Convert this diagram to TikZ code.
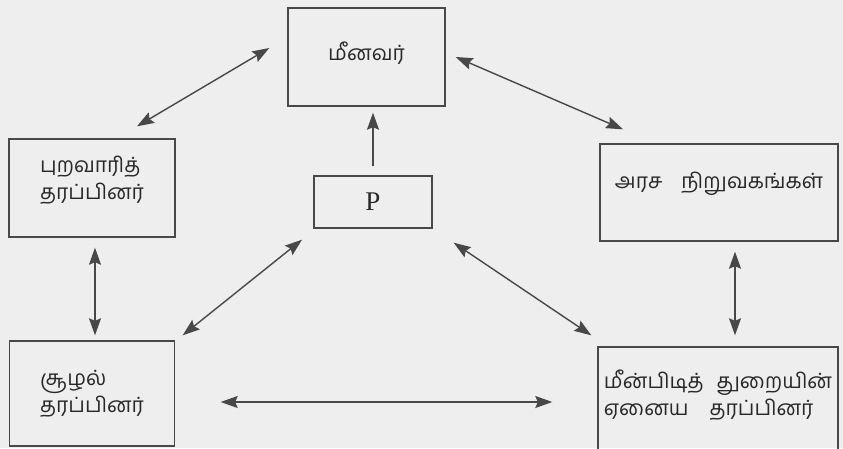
\documentclass[tikz,border=0pt]{standalone}
\usepackage{fontspec}
\setmainfont{Liberation Serif}
\newfontfamily\tamil[Script=Tamil]{Hind Madurai}
\usetikzlibrary{arrows.meta, positioning, calc}
\definecolor{paper}{RGB}{238, 238, 238}
\definecolor{ink}{RGB}{40, 40, 40}
\definecolor{wire}{RGB}{72, 72, 72}

\begin{document}
\begin{tikzpicture}[x=1pt, y=-1pt,
    box/.style={draw=wire, line width=1.4pt, text=ink, inner sep=2pt,
      font=\tamil\fontsize{21}{27}\selectfont},
    link/.style={draw=wire, line width=1.4pt,
      {Stealth[length=17pt, width=12pt, inset=2.5pt]}-{Stealth[length=17pt, width=12pt, inset=2.5pt]}},
    uplink/.style={draw=wire, line width=1.4pt, -{Stealth[length=17pt, width=12pt, inset=2.5pt]}}]
  \fill[paper] (0,0) rectangle (843,448);
  \useasboundingbox (0,0) rectangle (843,448);

  % Boxes
  \node[box, minimum width=157pt, minimum height=98pt, text depth=12pt] (fishers) at (366.5, 57) {மீனவர்};
  \node[box, minimum width=166pt, minimum height=98pt, align=left, text depth=20pt] (outsrc) at (92, 188) {புறவாரித்\\தரப்பினர்};
  \node[box, minimum width=118pt, minimum height=52pt, font=\fontsize{27}{30}\selectfont] (P) at (373, 202) {P};
  \node[box, minimum width=238pt, minimum height=97pt, text depth=24pt] (govt) at (719, 192.5) {அரச\hspace{0.9em}நிறுவகங்கள்};
  \node[box, minimum width=165pt, minimum height=105pt, align=left] (env) at (92, 393.5) {சூழல்\\தரப்பினர்};
  \node[box, minimum width=240pt, minimum height=106pt, align=left, text depth=14pt] (other) at (718, 400)
    {மீன்பிடித்\hspace{0.6em}துறையின்\\ஏனைய\hspace{1em}தரப்பினர்};

  % Links
  \draw[link] ([shift={(45,-12)}]outsrc.north) -- ([shift={(-18,-9)}]fishers.west);
  \draw[link] ([shift={(10,0)}]fishers.east) -- ([shift={(-96,-14)}]govt.north);
  \draw[uplink] ([yshift=9pt]P.north) -- ([yshift=-6pt]P.north |- fishers.south);
  \draw[link] ([shift={(3,10)}]outsrc.south) -- ([shift={(3,-5)}]env.north);
  \draw[link] ([shift={(-71,11)}]P.south) -- ([shift={(7.5,-5)}]env.north east);
  \draw[link] ([shift={(21,14)}]P.south east) -- ([shift={(-6,-11)}]other.north west);
  \draw[link] ([shift={(16,10)}]govt.south) -- ([shift={(17,-11)}]other.north);
  \draw[link] ([shift={(45.5,8.5)}]env.east) -- ([shift={(-45,2)}]other.west);
\end{tikzpicture}
\end{document}
